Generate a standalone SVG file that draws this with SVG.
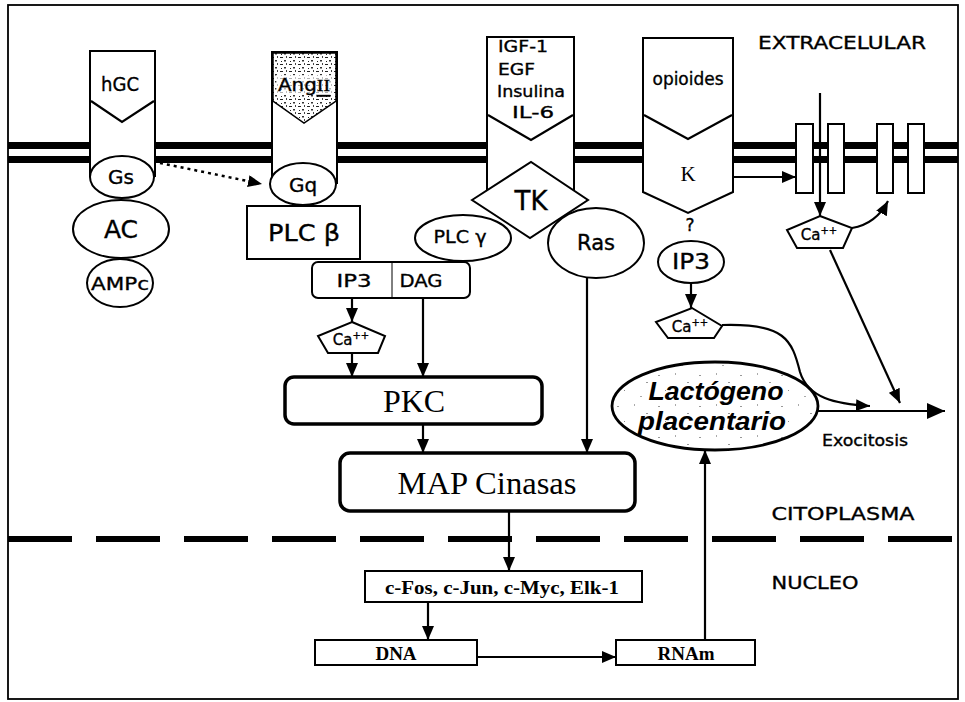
<svg xmlns="http://www.w3.org/2000/svg" width="965" height="702" viewBox="0 0 965 702">
<style>
.s{fill:#fff;stroke:#000;stroke-width:2}
.t{font-family:"DejaVu Sans",sans-serif;fill:#000;stroke:#000;stroke-width:0.35;text-anchor:middle;dominant-baseline:central}
.tm{font-family:"Liberation Serif",serif;fill:#000;text-anchor:middle;dominant-baseline:central}
.a{fill:none;stroke:#000;stroke-width:2.2}
.box{fill:#fff;stroke:#000;stroke-width:3.5}
</style>
<defs>
<marker id="ah" viewBox="0 0 14 12" refX="14" refY="6" markerWidth="14" markerHeight="12" markerUnits="userSpaceOnUse" orient="auto">
<path d="M0,0 L14,6 L0,12 Z" fill="#000"/>
</marker>
<marker id="ahb" viewBox="0 0 18 16" refX="18" refY="8" markerWidth="18" markerHeight="16" markerUnits="userSpaceOnUse" orient="auto">
<path d="M0,0 L18,8 L0,16 Z" fill="#000"/>
</marker>
<pattern id="speck" width="41" height="31" patternUnits="userSpaceOnUse">
<rect width="41" height="31" fill="#fff"/>
<rect x="2" y="3" width="2" height="1" fill="#999"/>
<rect x="19" y="1" width="1" height="2" fill="#aaa"/>
<rect x="31" y="10" width="2" height="1" fill="#999"/>
<rect x="9" y="18" width="1" height="1" fill="#888"/>
<rect x="25" y="24" width="2" height="1" fill="#aaa"/>
</pattern>
<pattern id="speck2" width="9" height="7" patternUnits="userSpaceOnUse">
<rect width="9" height="7" fill="#fff"/>
<rect x="1" y="1" width="3" height="1" fill="#222"/>
<rect x="5" y="4" width="2" height="1.5" fill="#333"/>
<rect x="7" y="0" width="1" height="2" fill="#444"/>
<rect x="2" y="5" width="1" height="1" fill="#222"/>
</pattern>
</defs>

<!-- frame -->
<rect x="8" y="5" width="950" height="694" fill="#fff" stroke="#000" stroke-width="1.8"/>

<!-- membrane -->
<g id="membrane">
<rect x="8" y="142" width="950" height="7" fill="#000"/>
<rect x="8" y="156" width="950" height="7" fill="#000"/>
</g>

<!-- nucleus boundary -->
<line x1="8" y1="539" x2="958" y2="539" stroke="#000" stroke-width="6" stroke-dasharray="64 24"/>

<!-- labels -->
<text class="t" x="842" y="42" font-size="18" textLength="168" lengthAdjust="spacingAndGlyphs">EXTRACELULAR</text>
<text class="t" x="843" y="513" font-size="18" textLength="143" lengthAdjust="spacingAndGlyphs">CITOPLASMA</text>
<text class="t" x="815" y="582" font-size="18" textLength="87" lengthAdjust="spacingAndGlyphs">NUCLEO</text>
<text class="t" x="865" y="441" font-size="15" textLength="86" lengthAdjust="spacingAndGlyphs">Exocitosis</text>

<!-- hGC receptor -->
<g id="hGC">
<path class="s" d="M90,177 V51 H155 V177"/>
<polyline class="a" points="91,101 122,122 154,101" stroke-width="2.5"/>
<text class="t" x="120" y="84" font-size="19" textLength="38" lengthAdjust="spacingAndGlyphs">hGC</text>
</g>
<g id="Gs"><ellipse class="s" cx="122" cy="177" rx="32" ry="21"/><text class="t" x="121" y="177" font-size="20">Gs</text></g>
<g id="AC"><ellipse class="s" cx="121" cy="229" rx="48" ry="29"/><text class="t" x="121" y="229" font-size="25">AC</text></g>
<g id="AMPc"><ellipse class="s" cx="120" cy="283" rx="33" ry="24"/><text class="t" x="120" y="283" font-size="18" textLength="58" lengthAdjust="spacingAndGlyphs">AMPc</text></g>

<!-- AngII receptor -->
<g id="AngII">
<path class="s" d="M272,184 V52 H337 V184"/>
<path d="M273,53 H336 V101 L304,123 L273,101 Z" fill="url(#speck2)" stroke="#000" stroke-width="1.5"/>
<rect x="276" y="75" width="56" height="19" fill="#fff" opacity="0.65"/>
<text class="t" x="304" y="85" font-size="17" textLength="52" lengthAdjust="spacingAndGlyphs">Ang<tspan font-family="Liberation Serif, serif" text-decoration="underline">II</tspan></text>
</g>
<g id="Gq"><ellipse class="s" cx="303" cy="184" rx="33" ry="21"/><text class="t" x="303" y="185" font-size="20">Gq</text></g>
<g id="PLCb"><rect class="s" x="247" y="206" width="113" height="53"/><text class="t" x="304" y="233" font-size="23" textLength="72" lengthAdjust="spacingAndGlyphs">PLC β</text></g>
<g id="IP3DAG">
<rect class="s" x="312" y="262" width="158" height="36" rx="6"/>
<line x1="392" y1="262" x2="392" y2="298" stroke="#000" stroke-width="1"/>
<text class="t" x="354" y="280" font-size="18" textLength="35" lengthAdjust="spacingAndGlyphs">IP3</text>
<text class="t" x="421" y="280" font-size="18" textLength="43" lengthAdjust="spacingAndGlyphs">DAG</text>
</g>
<g id="Ca1">
<polygon class="s" points="352,322 385,336 378,353 328,353 318,336"/>
<text class="t" x="351" y="340" font-size="15">Ca<tspan font-size="10" dy="-5">++</tspan></text>
</g>

<!-- TK receptor -->
<g id="TKrec">
<path class="s" d="M487,200 V37 H574 V200"/>
<polyline class="a" points="488,115 531,140 573,115" stroke-width="2.5"/>
<text class="t" x="498" y="46" font-size="16" style="text-anchor:start" textLength="50" lengthAdjust="spacingAndGlyphs">IGF-1</text>
<text class="t" x="498" y="69" font-size="16" style="text-anchor:start" textLength="37" lengthAdjust="spacingAndGlyphs">EGF</text>
<text class="t" x="497" y="91" font-size="16" style="text-anchor:start" textLength="68" lengthAdjust="spacingAndGlyphs">Insulina</text>
<text class="t" x="533" y="112" font-size="16" textLength="42" lengthAdjust="spacingAndGlyphs">IL-6</text>
</g>
<g id="TK"><polygon class="s" points="472,200 531,162 588,200 530,238"/><text class="t" x="531" y="201" font-size="26">TK</text></g>
<g id="PLCg"><ellipse class="s" cx="463" cy="238" rx="48" ry="23"/><text class="t" x="460" y="236" font-size="18" textLength="53" lengthAdjust="spacingAndGlyphs">PLC γ</text></g>
<g id="Ras"><ellipse class="s" cx="596" cy="243" rx="48" ry="35"/><text class="t" x="596" y="243" font-size="21">Ras</text></g>

<!-- opioid receptor -->
<g id="opioides">
<path class="s" d="M643,192 V38 H733 V192 L688,213 Z"/>
<polyline class="a" points="644,115 688,139 732,115" stroke-width="2.5"/>
<text class="t" x="688" y="79" font-size="17" textLength="71" lengthAdjust="spacingAndGlyphs">opioides</text>
<text class="tm" x="688" y="174" font-size="21">K</text>
</g>
<text class="t" x="690" y="225" font-size="17">?</text>
<g id="IP3b"><ellipse class="s" cx="691" cy="262" rx="33" ry="21"/><text class="t" x="691" y="262" font-size="21" textLength="38" lengthAdjust="spacingAndGlyphs">IP3</text></g>
<g id="Ca2">
<polygon class="s" points="692,308 722,326 714,338 668,338 656,322"/>
<text class="t" x="690" y="327" font-size="15">Ca<tspan font-size="10" dy="-5">++</tspan></text>
</g>

<!-- channels -->
<g id="channel">
<rect class="s" x="796" y="124" width="17" height="69" stroke-width="1.5"/>
<rect class="s" x="828" y="124" width="16" height="69" stroke-width="1.5"/>
<rect class="s" x="877" y="124" width="16" height="69" stroke-width="1.5"/>
<rect class="s" x="908" y="124" width="16" height="69" stroke-width="1.5"/>
</g>
<g id="Ca3">
<polygon class="s" points="820,216 852,228 843,248 797,248 787,230"/>
<text class="t" x="819" y="235" font-size="15">Ca<tspan font-size="10" dy="-5">++</tspan></text>
</g>

<!-- Lactogeno -->
<g id="Lactogeno">
<ellipse cx="715" cy="406" rx="103" ry="44" fill="url(#speck)" stroke="#000" stroke-width="2.8"/>
<text x="716" y="391" font-family="Liberation Sans, sans-serif" font-weight="bold" font-style="italic" font-size="25" text-anchor="middle" dominant-baseline="central" textLength="135" lengthAdjust="spacingAndGlyphs">Lactógeno</text>
<text x="712" y="421" font-family="Liberation Sans, sans-serif" font-weight="bold" font-style="italic" font-size="25" text-anchor="middle" dominant-baseline="central" textLength="148" lengthAdjust="spacingAndGlyphs">placentario</text>
</g>

<!-- PKC, MAP -->
<g id="PKC"><rect class="box" x="285" y="377" width="257" height="47" rx="9"/><text class="tm" x="414" y="401" font-size="32">PKC</text></g>
<g id="MAP"><rect class="box" x="340" y="453" width="295" height="58" rx="10"/><text class="tm" x="487" y="483" font-size="32" textLength="179" lengthAdjust="spacingAndGlyphs">MAP Cinasas</text></g>
<g id="cFos"><rect class="s" x="365" y="571" width="277" height="31"/><text class="tm" x="502" y="587" font-size="19" font-weight="bold" textLength="234" lengthAdjust="spacingAndGlyphs">c-Fos, c-Jun, c-Myc, Elk-1</text></g>
<g id="DNA"><rect class="s" x="315" y="640" width="162" height="25"/><text class="tm" x="396" y="653" font-size="19" font-weight="bold">DNA</text></g>
<g id="RNAm"><rect class="s" x="616" y="640" width="139" height="25"/><text class="tm" x="686" y="653" font-size="19" font-weight="bold">RNAm</text></g>

<!-- connectors -->
<g id="connectors">
<path d="M160,163 L262,184" fill="none" stroke="#000" stroke-width="2.5" stroke-dasharray="3 4" marker-end="url(#ah)"/>
<path class="a" d="M352,298 L352,322" marker-end="url(#ah)"/>
<path class="a" d="M352,353 L352,377" marker-end="url(#ah)"/>
<path class="a" d="M423,298 L423,377" marker-end="url(#ah)"/>
<path class="a" d="M423,424 L423,453" marker-end="url(#ah)"/>
<path class="a" d="M587,278 L587,453" marker-end="url(#ah)"/>
<path class="a" d="M509,511 L509,571" marker-end="url(#ah)"/>
<path class="a" d="M428,602 L428,640" marker-end="url(#ah)"/>
<path class="a" d="M477,657 L616,657" marker-end="url(#ah)"/>
<path class="a" d="M705,640 L705,450" marker-end="url(#ah)"/>
<path class="a" d="M818,411 L945,411" stroke-width="3.2" marker-end="url(#ahb)"/>
<path class="a" d="M722,325 C785,323 792,340 800,372 C808,398 835,404 870,406" marker-end="url(#ah)"/>
<path class="a" d="M830,250 L900,403" marker-end="url(#ah)"/>
<path class="a" d="M820,93 L820,216" marker-end="url(#ah)"/>
<path class="a" d="M733,177 L796,177" marker-end="url(#ah)"/>
<path class="a" d="M852,228 Q876,224 888,201" marker-end="url(#ah)"/>
<path class="a" d="M691,283 L691,308" marker-end="url(#ah)"/>
</g>
</svg>
